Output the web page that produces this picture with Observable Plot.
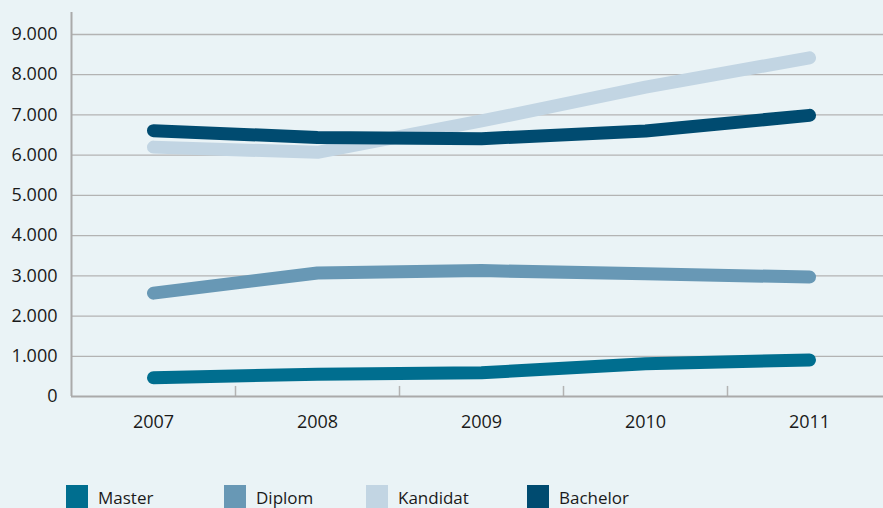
<!DOCTYPE html>
<html><head><meta charset="utf-8">
<script src="https://cdn.jsdelivr.net/npm/d3@7"></script>
<script src="https://cdn.jsdelivr.net/npm/@observablehq/plot@0.6"></script>
<style>
html,body{margin:0;padding:0;background:#eaf3f6;}
#wrap{width:883px;height:508px;overflow:hidden;position:relative;font-family:"Open Sans",sans-serif;background:#eaf3f6;}
#chart svg{display:block;}
#legend{position:relative;height:30px;}
.sw{position:absolute;top:7px;width:22px;height:26px;}
.lb{position:absolute;top:11px;font-size:17px;line-height:17px;color:#1a1a1a;white-space:nowrap;}
</style></head><body><div id="wrap"><div id="chart"></div><div id="legend"></div></div>
<script>
const years = [2007, 2008, 2009, 2010, 2011];
const master = [465, 555, 590, 815, 910];
const diplom = [2570, 3070, 3130, 3050, 2970];
const kandidat = [6200, 6070, 6850, 7690, 8420];
const bachelor = [6610, 6440, 6410, 6600, 6990];
const seriesNames = ["Master", "Diplom", "Kandidat", "Bachelor"];
const seriesColors = ["#006e8f", "#6898b5", "#c2d5e3", "#004b70"];
const yTicks = [0, 1000, 2000, 3000, 4000, 5000, 6000, 7000, 8000, 9000];

const seriesValues = [master, diplom, kandidat, bachelor];
const data = seriesNames.flatMap((s, i) => years.map((yr, j) => ({series: s, year: yr, value: seriesValues[i][j]})));
const locale = d3.formatLocale({decimal: ",", thousands: ".", grouping: [3], currency: ["", ""]});
const fmt = locale.format(",");
const boundaryTicks = years.slice(1).map(y => y - 0.5);

const chart = Plot.plot({
  width: 883, height: 478,
  marginLeft: 71, marginRight: 0, marginTop: 34, marginBottom: 82,
  style: {background: "transparent", fontFamily: "Open Sans", fontSize: "18px", color: "#1a1a1a"},
  x: {type: "linear", domain: [years[0] - 0.5, years[years.length - 1] + 0.5], range: [71, 891], label: null},
  y: {domain: [0, 9000], label: null},
  color: {domain: seriesNames, range: seriesColors},
  marks: [
    Plot.ruleY(yTicks.slice(1), {stroke: "#b3b3b3", strokeWidth: 1.3}),
    Plot.ruleX(boundaryTicks, {y1: 0, y2: 250, stroke: "#b3b3b3", strokeWidth: 1.5}),
    Plot.ruleY([0], {stroke: "#aaaaaa", strokeWidth: 1.8}),
    Plot.ruleX([years[0] - 0.5], {y1: 0, y2: 9550, stroke: "#aaaaaa", strokeWidth: 2}),
    Plot.axisY({ticks: yTicks, tickSize: 0, tickPadding: 14, tickFormat: fmt, fontSize: 18}),
    Plot.axisX({ticks: years, tickSize: 0, tickPadding: 19, tickFormat: d => String(d), fontSize: 18}),
    Plot.line(data, {x: "year", y: "value", stroke: "series", z: "series", strokeWidth: 13, strokeLinecap: "round", strokeLinejoin: "round"})
  ]
});
document.getElementById("chart").appendChild(chart);

const legendPos = [66, 224, 366, 527];
const legend = document.getElementById("legend");
seriesNames.forEach((s, i) => {
  const sw = document.createElement("div");
  sw.className = "sw"; sw.style.left = legendPos[i] + "px"; sw.style.background = seriesColors[i];
  const lb = document.createElement("div");
  lb.className = "lb"; lb.style.left = (legendPos[i] + 32) + "px"; lb.textContent = s;
  legend.appendChild(sw); legend.appendChild(lb);
});
</script></body></html>
